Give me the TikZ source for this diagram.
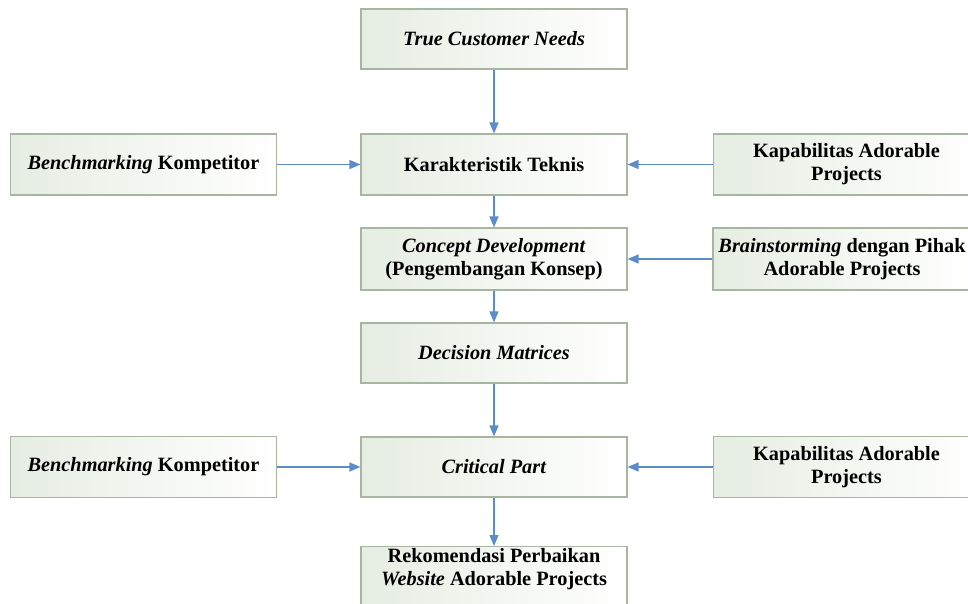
\documentclass[tikz,border=0pt]{standalone}
\usepackage{fontspec}
\setmainfont{Liberation Serif}
\usetikzlibrary{arrows.meta}
\definecolor{bordergreen}{HTML}{A7B6A1}
\definecolor{fillgreen}{HTML}{E6EDE2}
\definecolor{arrowblue}{HTML}{5B8DC8}
\begin{document}
\begin{tikzpicture}[x=1pt,y=-1pt,
  box/.style={draw=bordergreen, line width=1.1pt, left color=fillgreen, right color=white,
    minimum width=266pt, minimum height=61pt, inner sep=0pt, align=center,
    font=\bfseries\fontsize{20.3}{23}\selectfont},
  txt/.style={inner sep=0pt, align=center, font=\bfseries\fontsize{20.3}{23}\selectfont},
  arr/.style={draw=arrowblue, line width=1.4pt, -{Triangle[length=11pt,width=9pt]}}]
\useasboundingbox (0,0) rectangle (968,604);
\clip (0,0) rectangle (968,604);
% centre column
\node (tcn) [box, minimum height=60pt] at (494,39) {\textit{True Customer Needs}};
\node (kt)  [box] at (494,164.5) {Karakteristik Teknis};
\node (cd)  [box, minimum height=62pt] at (494,259) {\textit{Concept Development}\\(Pengembangan Konsep)};
\node (dm)  [box, minimum height=60pt] at (494,353) {\textit{Decision Matrices}};
\node (cp)  [box, minimum height=60pt] at (494,467) {\textit{Critical Part}};
\node (rek) [box, minimum height=66pt, anchor=north] at (494,546) {};
\node (rektext) [txt] at (494,569) {Rekomendasi Perbaikan\\\textit{Website} Adorable Projects};
% left column
\node (lb1) [box] at (143.5,164.5) {\textit{Benchmarking} Kompetitor};
\node (lb2) [box] at (143.5,467) {\textit{Benchmarking} Kompetitor};
% right column
\node (rb1) [box] at (846.5,164.5) {Kapabilitas Adorable\\Projects};
\node (rb2) [box, minimum height=62pt, minimum width=258pt] at (842,259) {\textit{Brainstorming} dengan Pihak\\Adorable Projects};
\node (rb3) [box] at (846.5,467) {Kapabilitas Adorable\\Projects};
% connectors
\draw[arr] (tcn) -- (kt);
\draw[arr] (lb1) -- (kt);
\draw[arr] (rb1) -- (kt);
\draw[arr] (kt) -- (cd);
\draw[arr] (rb2) -- (cd);
\draw[arr] (cd) -- (dm);
\draw[arr] (dm) -- (cp);
\draw[arr] (lb2) -- (cp);
\draw[arr] (rb3) -- (cp);
\draw[arr] (cp) -- (rek);
\end{tikzpicture}
\end{document}
